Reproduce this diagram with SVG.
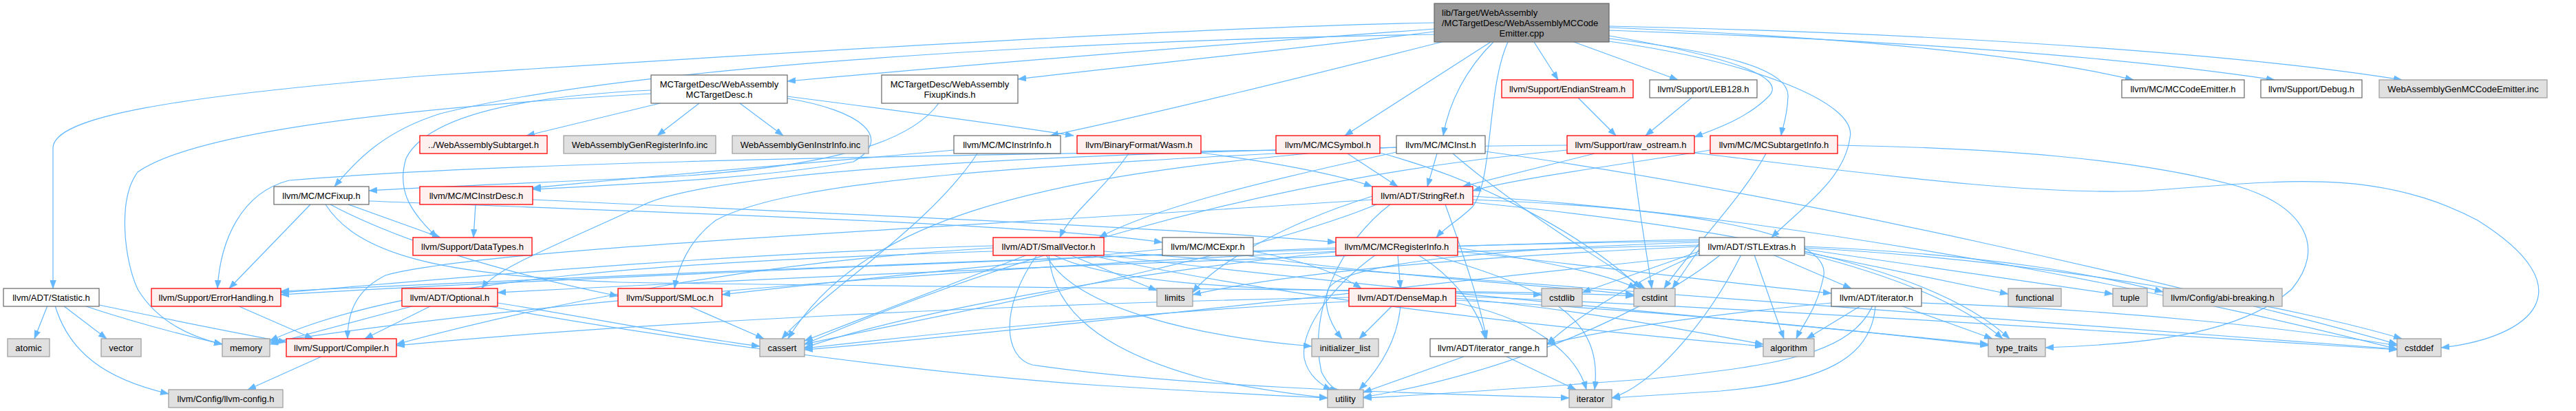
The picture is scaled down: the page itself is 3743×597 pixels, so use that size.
<svg xmlns="http://www.w3.org/2000/svg" width="3743" height="597" viewBox="0 0 3743 597">
<style>
text{font-family:"Liberation Sans",Arial,Helvetica,sans-serif;font-size:13px;fill:#000;text-anchor:middle}
.w{fill:#fff;stroke:#666;stroke-width:1.2}
.r{fill:#fff0f0;stroke:#f00;stroke-width:1.3}
.g{fill:#e0e0e0;stroke:#999;stroke-width:1.2}
.rt{fill:#999;stroke:#666;stroke-width:1.2}
#edges path{fill:none;stroke:#63b8ff;stroke-width:1.2;marker-end:url(#a)}
</style>
<defs>
<marker id="a" viewBox="0 0 12 9" refX="12" refY="4.5" markerWidth="12" markerHeight="9" markerUnits="userSpaceOnUse" orient="auto"><path d="M0,0 L12,4.5 L0,9 z" fill="#63b8ff" stroke="#63b8ff" stroke-width="0.5"/></marker>
</defs>
<rect width="3743" height="597" fill="#fff"/>
<g id="edges">
<path d="M2084,33 C1700,40 1000,85 620,110 C250,140 77,170 77,215 L77,419"/>
<path d="M2084,42 C1700,70 1400,95 1144,118"/>
<path d="M2084,46 C1850,75 1600,100 1479,115"/>
<path d="M2084,50 C1500,60 900,100 640,165 C560,190 520,230 486,271"/>
<path d="M2095,61 C1900,110 1700,160 1526,197"/>
<path d="M2166,61 L1954,197"/>
<path d="M2170,61 C2130,100 2105,150 2097,197"/>
<path d="M2191,61 C2160,130 2170,260 2140,300 C2120,320 2100,330 2087,345"/>
<path d="M2229,61 L2264,116"/>
<path d="M2287,61 L2438,116"/>
<path d="M2338,52 C2500,80 2600,110 2570,140 C2540,170 2500,185 2462,199"/>
<path d="M2338,56 C2500,75 2600,100 2598,140 C2597,170 2590,185 2588,197"/>
<path d="M2338,60 C2550,90 2700,150 2688,200 C2680,260 2620,300 2574,345"/>
<path d="M2338,40 C2700,55 2950,80 3100,116"/>
<path d="M2338,44 C2800,60 3100,85 3305,116"/>
<path d="M2338,38 C2900,50 3300,85 3490,116"/>
<path d="M959,150 L765,197"/>
<path d="M1016,150 L955,197"/>
<path d="M1075,150 L1138,197"/>
<path d="M1144,140 C1300,160 1450,180 1560,197"/>
<path d="M1144,143 C1250,160 1300,200 1240,235 C1100,260 900,268 774,275"/>
<path d="M946,131 C750,140 620,170 590,230 C575,280 600,310 635,345"/>
<path d="M946,136 C700,150 300,180 200,250 C170,290 181,380 200,420 C230,470 280,490 323,500"/>
<path d="M1364,150 C1320,210 1200,240 1000,255 C800,265 650,270 536,277"/>
<path d="M2293,142 L2348,197"/>
<path d="M2458,142 L2391,197"/>
<path d="M1386,218 C1200,235 950,255 774,273"/>
<path d="M1420,223 C1350,330 1200,420 1136,492"/>
<path d="M1640,223 C1600,280 1555,310 1540,345"/>
<path d="M1745,222 C1850,235 1950,255 1994,271"/>
<path d="M1958,223 L2031,271"/>
<path d="M1854,218 C1200,228 700,238 420,262 C350,280 320,350 316,419"/>
<path d="M2005,222 C2150,260 2300,340 2384,419"/>
<path d="M1900,223 C1500,260 1250,320 1145,492"/>
<path d="M2088,223 L2074,271"/>
<path d="M2111,223 C2200,300 2330,380 2390,419"/>
<path d="M2029,221 C1850,260 1680,300 1597,345"/>
<path d="M2029,214 C1500,240 1150,260 1040,320 C1000,350 985,390 980,419"/>
<path d="M2158,220 C2600,280 3200,420 3483,500"/>
<path d="M2317,223 L2125,271"/>
<path d="M2372,223 C2380,300 2395,380 2400,419"/>
<path d="M2277,218 C1800,260 1400,400 1169,500"/>
<path d="M2462,222 C2700,250 2950,285 3120,277 C3300,265 3450,240 3600,320 C3760,420 3680,490 3547,505"/>
<path d="M2277,211 C1800,215 1050,235 930,300 C800,360 720,390 700,419"/>
<path d="M2485,218 C2350,240 2200,260 2140,277"/>
<path d="M2566,223 C2530,290 2450,370 2418,419"/>
<path d="M2670,211 C2900,215 3100,230 3250,270 C3350,300 3380,360 3330,420 C3250,490 3100,500 2972,505"/>
<path d="M451,297 L333,419"/>
<path d="M506,297 L640,345"/>
<path d="M480,297 C560,340 700,390 898,430"/>
<path d="M536,292 C1000,310 1500,325 1689,352"/>
<path d="M473,297 C520,370 640,400 900,410 C1500,420 2200,420 2374,430"/>
<path d="M691,297 L688,345"/>
<path d="M774,290 C1200,310 1700,330 1941,352"/>
<path d="M1994,290 C1400,330 700,360 560,400 C520,420 505,450 505,492"/>
<path d="M2000,297 C1800,380 1300,470 1169,500"/>
<path d="M2140,290 C2400,300 2660,330 2650,400 C2640,450 2620,470 2610,492"/>
<path d="M2140,294 C2500,330 2800,380 2920,492"/>
<path d="M2100,297 C2130,380 2150,440 2160,492"/>
<path d="M1994,285 C1850,330 1760,390 1733,425"/>
<path d="M2140,285 C2700,320 3300,460 3483,507"/>
<path d="M2020,297 C1950,350 1900,450 1920,540 C1930,560 1940,566 1945,566"/>
<path d="M1554,370 L1681,422"/>
<path d="M1443,360 C1100,380 800,440 576,500"/>
<path d="M1443,357 C1000,370 600,410 408,425"/>
<path d="M1443,365 C1000,380 600,400 392,495"/>
<path d="M1493,370 L1169,495"/>
<path d="M1530,370 C1650,430 2000,420 2240,428"/>
<path d="M1520,370 C1560,450 1750,490 1906,503"/>
<path d="M1600,370 C2000,420 2600,470 2889,500"/>
<path d="M1580,370 C1900,440 2300,480 2562,503"/>
<path d="M1507,370 C1450,450 1460,520 1500,530 C1700,560 2000,570 2280,578"/>
<path d="M1524,370 C1530,450 1600,510 1750,550 C1850,570 1900,575 1929,578"/>
<path d="M1604,365 C2300,420 3200,480 3483,507"/>
<path d="M1689,362 C1400,390 1200,410 1049,428"/>
<path d="M1821,365 C1900,380 1950,400 1978,419"/>
<path d="M1803,370 C2000,400 2250,415 2374,428"/>
<path d="M2031,370 L2035,419"/>
<path d="M1999,370 C1930,420 1890,480 1895,520 C1900,545 1920,560 1935,566"/>
<path d="M2060,370 C2110,400 2150,450 2158,492"/>
<path d="M2118,365 C2300,385 2500,410 2661,426"/>
<path d="M2118,360 C2250,380 2340,400 2378,419"/>
<path d="M1941,366 C1600,400 1300,460 1169,505"/>
<path d="M1941,360 C1400,380 700,410 408,428"/>
<path d="M2080,370 C2250,420 2330,460 2317,566"/>
<path d="M2023,444 L1975,492"/>
<path d="M2035,444 C2030,500 2000,540 1975,566"/>
<path d="M2115,440 C2220,460 2290,510 2305,566"/>
<path d="M2115,436 C2400,450 2700,480 2889,502"/>
<path d="M2115,433 C2300,450 2450,480 2562,500"/>
<path d="M1960,438 C1700,450 1400,480 1169,506"/>
<path d="M2115,430 C2600,450 3200,490 3483,508"/>
<path d="M1960,432 C1500,440 900,470 576,502"/>
<path d="M2576,370 L2690,419"/>
<path d="M2549,370 L2592,492"/>
<path d="M2622,368 C2750,400 2850,440 2910,492"/>
<path d="M2622,366 L2918,427"/>
<path d="M2622,362 L3070,427"/>
<path d="M2622,358 C2900,370 3050,400 3143,424"/>
<path d="M2622,360 C3000,380 3350,450 3490,492"/>
<path d="M2469,362 L2430,419"/>
<path d="M2469,365 C2400,390 2340,410 2299,425"/>
<path d="M2469,358 C2200,370 1900,390 1733,428"/>
<path d="M2469,368 C2350,420 2280,470 2248,500"/>
<path d="M2469,352 C2200,360 1950,380 1930,420 C1920,450 1940,480 1950,492"/>
<path d="M2500,370 C2400,450 2200,540 1981,577"/>
<path d="M2530,370 C2480,470 2400,560 2342,578"/>
<path d="M2469,348 C1800,360 900,420 392,497"/>
<path d="M2469,350 C1800,360 900,400 408,423"/>
<path d="M2469,356 C1900,370 1200,400 723,425"/>
<path d="M2480,370 C2000,420 1500,480 1169,508"/>
<path d="M2661,440 C2450,460 2330,480 2248,500"/>
<path d="M2704,444 L2625,492"/>
<path d="M2762,444 L2895,492"/>
<path d="M2721,444 C2690,510 2600,530 2400,550 C2200,565 2050,575 1981,578"/>
<path d="M2725,444 C2720,520 2650,555 2500,568 C2420,573 2380,576 2342,578"/>
<path d="M2792,440 C3100,450 3350,480 3483,502"/>
<path d="M2127,518 L1981,570"/>
<path d="M2189,518 L2290,566"/>
<path d="M602,444 L392,500"/>
<path d="M627,444 L530,492"/>
<path d="M723,440 C850,460 1000,490 1104,503"/>
<path d="M706,444 C900,480 1300,540 1600,560 C1800,572 1880,576 1929,578"/>
<path d="M1000,444 L1110,492"/>
<path d="M69,444 L50,492"/>
<path d="M92,444 L155,492"/>
<path d="M80,444 C100,510 150,550 245,572"/>
<path d="M122,444 C200,470 280,490 323,500"/>
<path d="M144,443 C250,465 350,485 416,497"/>
<path d="M345,444 L455,492"/>
<path d="M467,518 L360,566"/>
</g>
<g id="root"><rect class="rt" x="2084" y="5" width="254" height="56"/><text x="2095" y="23" style="text-anchor:start">lib/Target/WebAssembly</text><text x="2095" y="38" style="text-anchor:start">/MCTargetDesc/WebAssemblyMCCode</text><text x="2211" y="53">Emitter.cpp</text></g>
<g id="mctargetdesc"><rect class="w" x="946" y="109" width="198" height="41"/><text x="1045" y="127">MCTargetDesc/WebAssembly</text><text x="1045" y="142">MCTargetDesc.h</text></g>
<g id="fixupkinds"><rect class="w" x="1281" y="109" width="198" height="41"/><text x="1380" y="127">MCTargetDesc/WebAssembly</text><text x="1380" y="142">FixupKinds.h</text></g>
<g id="endianstream"><rect class="r" x="2182" y="116" width="191" height="26"/><text x="2277.5" y="133.5">llvm/Support/EndianStream.h</text></g>
<g id="leb128"><rect class="w" x="2397" y="116" width="156" height="26"/><text x="2475" y="133.5">llvm/Support/LEB128.h</text></g>
<g id="mccodeemitter"><rect class="w" x="3083" y="116" width="178" height="26"/><text x="3172" y="133.5">llvm/MC/MCCodeEmitter.h</text></g>
<g id="debug"><rect class="w" x="3285" y="116" width="147" height="26"/><text x="3358.5" y="133.5">llvm/Support/Debug.h</text></g>
<g id="genmccodeemitter"><rect class="g" x="3457" y="116" width="244" height="26"/><text x="3579" y="133.5">WebAssemblyGenMCCodeEmitter.inc</text></g>
<g id="subtarget"><rect class="r" x="610" y="197" width="185" height="26"/><text x="702.5" y="214.5">../WebAssemblySubtarget.h</text></g>
<g id="genregisterinfo"><rect class="g" x="819" y="197" width="221" height="26"/><text x="929.5" y="214.5">WebAssemblyGenRegisterInfo.inc</text></g>
<g id="geninstrinfo"><rect class="g" x="1064" y="197" width="198" height="26"/><text x="1163" y="214.5">WebAssemblyGenInstrInfo.inc</text></g>
<g id="mcinstrinfo"><rect class="w" x="1386" y="197" width="155" height="26"/><text x="1463.5" y="214.5">llvm/MC/MCInstrInfo.h</text></g>
<g id="wasm"><rect class="r" x="1565" y="197" width="180" height="26"/><text x="1655" y="214.5">llvm/BinaryFormat/Wasm.h</text></g>
<g id="mcsymbol"><rect class="r" x="1854" y="197" width="151" height="26"/><text x="1929.5" y="214.5">llvm/MC/MCSymbol.h</text></g>
<g id="mcinst"><rect class="w" x="2029" y="197" width="129" height="26"/><text x="2093.5" y="214.5">llvm/MC/MCInst.h</text></g>
<g id="raw_ostream"><rect class="r" x="2277" y="197" width="185" height="26"/><text x="2369.5" y="214.5">llvm/Support/raw_ostream.h</text></g>
<g id="mcsubtargetinfo"><rect class="r" x="2485" y="197" width="185" height="26"/><text x="2577.5" y="214.5">llvm/MC/MCSubtargetInfo.h</text></g>
<g id="mcfixup"><rect class="w" x="398" y="271" width="138" height="26"/><text x="467" y="288.5">llvm/MC/MCFixup.h</text></g>
<g id="mcinstrdesc"><rect class="r" x="610" y="271" width="164" height="26"/><text x="692" y="288.5">llvm/MC/MCInstrDesc.h</text></g>
<g id="stringref"><rect class="r" x="1994" y="271" width="146" height="26"/><text x="2067" y="288.5">llvm/ADT/StringRef.h</text></g>
<g id="datatypes"><rect class="r" x="600" y="345" width="173" height="26"/><text x="686.5" y="362.5">llvm/Support/DataTypes.h</text></g>
<g id="smallvector"><rect class="r" x="1443" y="345" width="161" height="26"/><text x="1523.5" y="362.5">llvm/ADT/SmallVector.h</text></g>
<g id="mcexpr"><rect class="w" x="1689" y="345" width="132" height="26"/><text x="1755" y="362.5">llvm/MC/MCExpr.h</text></g>
<g id="mcregisterinfo"><rect class="r" x="1941" y="345" width="177" height="26"/><text x="2029.5" y="362.5">llvm/MC/MCRegisterInfo.h</text></g>
<g id="stlextras"><rect class="w" x="2469" y="345" width="153" height="26"/><text x="2545.5" y="362.5">llvm/ADT/STLExtras.h</text></g>
<g id="statistic"><rect class="w" x="5" y="419" width="139" height="26"/><text x="74.5" y="436.5">llvm/ADT/Statistic.h</text></g>
<g id="errorhandling"><rect class="r" x="220" y="419" width="188" height="26"/><text x="314" y="436.5">llvm/Support/ErrorHandling.h</text></g>
<g id="optional"><rect class="r" x="584" y="419" width="139" height="26"/><text x="653.5" y="436.5">llvm/ADT/Optional.h</text></g>
<g id="smloc"><rect class="r" x="898" y="419" width="151" height="26"/><text x="973.5" y="436.5">llvm/Support/SMLoc.h</text></g>
<g id="limits"><rect class="g" x="1681" y="419" width="52" height="26"/><text x="1707" y="436.5">limits</text></g>
<g id="densemap"><rect class="r" x="1960" y="419" width="155" height="26"/><text x="2037.5" y="436.5">llvm/ADT/DenseMap.h</text></g>
<g id="cstdlib"><rect class="g" x="2240" y="419" width="59" height="26"/><text x="2269.5" y="436.5">cstdlib</text></g>
<g id="cstdint"><rect class="g" x="2374" y="419" width="60" height="26"/><text x="2404" y="436.5">cstdint</text></g>
<g id="iterator_h"><rect class="w" x="2661" y="419" width="131" height="26"/><text x="2726.5" y="436.5">llvm/ADT/iterator.h</text></g>
<g id="functional"><rect class="g" x="2918" y="419" width="77" height="26"/><text x="2956.5" y="436.5">functional</text></g>
<g id="tuple"><rect class="g" x="3070" y="419" width="50" height="26"/><text x="3095" y="436.5">tuple</text></g>
<g id="abibreaking"><rect class="g" x="3143" y="419" width="173" height="26"/><text x="3229.5" y="436.5">llvm/Config/abi-breaking.h</text></g>
<g id="atomic"><rect class="g" x="11" y="492" width="61" height="26"/><text x="41.5" y="509.5">atomic</text></g>
<g id="vector"><rect class="g" x="147" y="492" width="58" height="26"/><text x="176" y="509.5">vector</text></g>
<g id="memory"><rect class="g" x="323" y="492" width="69" height="26"/><text x="357.5" y="509.5">memory</text></g>
<g id="compiler"><rect class="r" x="416" y="492" width="160" height="26"/><text x="496" y="509.5">llvm/Support/Compiler.h</text></g>
<g id="cassert"><rect class="g" x="1104" y="492" width="65" height="26"/><text x="1136.5" y="509.5">cassert</text></g>
<g id="initializer_list"><rect class="g" x="1906" y="492" width="97" height="26"/><text x="1954.5" y="509.5">initializer_list</text></g>
<g id="iterator_range"><rect class="w" x="2078" y="492" width="170" height="26"/><text x="2163" y="509.5">llvm/ADT/iterator_range.h</text></g>
<g id="algorithm"><rect class="g" x="2562" y="492" width="74" height="26"/><text x="2599" y="509.5">algorithm</text></g>
<g id="type_traits"><rect class="g" x="2889" y="492" width="83" height="26"/><text x="2930.5" y="509.5">type_traits</text></g>
<g id="cstddef"><rect class="g" x="3483" y="492" width="64" height="26"/><text x="3515" y="509.5">cstddef</text></g>
<g id="llvmconfig"><rect class="g" x="245" y="566" width="166" height="26"/><text x="328" y="583.5">llvm/Config/llvm-config.h</text></g>
<g id="utility"><rect class="g" x="1929" y="566" width="52" height="26"/><text x="1955" y="583.5">utility</text></g>
<g id="iterator"><rect class="g" x="2280" y="566" width="62" height="26"/><text x="2311" y="583.5">iterator</text></g>
</svg>
